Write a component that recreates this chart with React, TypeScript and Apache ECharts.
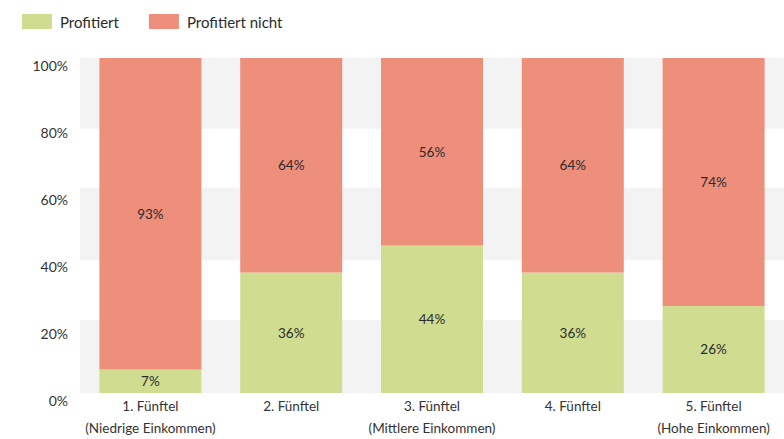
import React, { useEffect, useRef } from "react";
import * as echarts from "echarts";

const categories = [
  "1. Fünftel\n(Niedrige Einkommen)",
  "2. Fünftel",
  "3. Fünftel\n(Mittlere Einkommen)",
  "4. Fünftel",
  "5. Fünftel\n(Hohe Einkommen)",
];
const profitiert = [7, 36, 44, 36, 26];
const profitiertNicht = [93, 64, 56, 64, 74];
const bandRanges: [number, number][] = [
  [0, 21.7],
  [39.6, 61.3],
  [78.9, 100],
];

const FONT = "Lato, 'Noto Sans', sans-serif";

export default function App() {
  const ref = useRef<HTMLDivElement>(null);
  useEffect(() => {
    document.body.style.margin = "0";
    const chart = echarts.init(ref.current!, undefined, { renderer: "svg" });
    const labelStyle = {
      show: true,
      position: "inside" as const,
      formatter: "{c}%",
      color: "#2b2b2b",
      fontSize: 13.5,
      fontFamily: FONT,
    };
    chart.setOption({
      animation: false,
      textStyle: { fontFamily: FONT },
      legend: {
        left: 22,
        top: 14,
        itemWidth: 30,
        itemHeight: 15,
        itemGap: 30,
        icon: "rect",
        padding: 0,
        data: ["Profitiert", "Profitiert nicht"],
        textStyle: { fontSize: 15, color: "#2b2b2b", fontFamily: FONT, padding: [0, 0, 0, 3] },
      },
      grid: { left: 80, top: 58, width: 710, height: 340, containLabel: false },
      xAxis: {
        type: "category",
        data: categories,
        axisLine: { show: false },
        axisTick: { show: false },
        axisLabel: {
          color: "#333",
          fontSize: 13.5,
          lineHeight: 22,
          margin: 2,
          verticalAlign: "top",
          interval: 0,
          fontFamily: FONT,
        },
      },
      yAxis: {
        type: "value",
        min: 0,
        max: 100,
        interval: 20,
        axisLine: { show: false },
        axisTick: { show: false },
        splitLine: { show: false },
        axisLabel: {
          formatter: "{value}%",
          color: "#333",
          fontSize: 14,
          margin: 12,
          verticalAlign: "top",
          fontFamily: FONT,
        },
      },
      series: [
        {
          name: "bands",
          type: "line",
          data: [],
          z: 1,
          silent: true,
          markArea: {
            silent: true,
            itemStyle: { color: "#f3f3f3" },
            data: bandRanges.map(([a, b]) => [{ yAxis: a }, { yAxis: b }]),
          },
        },
        {
          name: "Profitiert",
          type: "bar",
          stack: "total",
          barWidth: 102,
          z: 3,
          data: profitiert,
          itemStyle: { color: "#d0dc90" },
          label: labelStyle,
        },
        {
          name: "Profitiert nicht",
          type: "bar",
          stack: "total",
          barWidth: 102,
          z: 3,
          data: profitiertNicht,
          itemStyle: { color: "#ee8f7b" },
          label: labelStyle,
        },
      ],
    });
    return () => chart.dispose();
  }, []);
  return <div ref={ref} style={{ width: 784, height: 439 }} />;
}
